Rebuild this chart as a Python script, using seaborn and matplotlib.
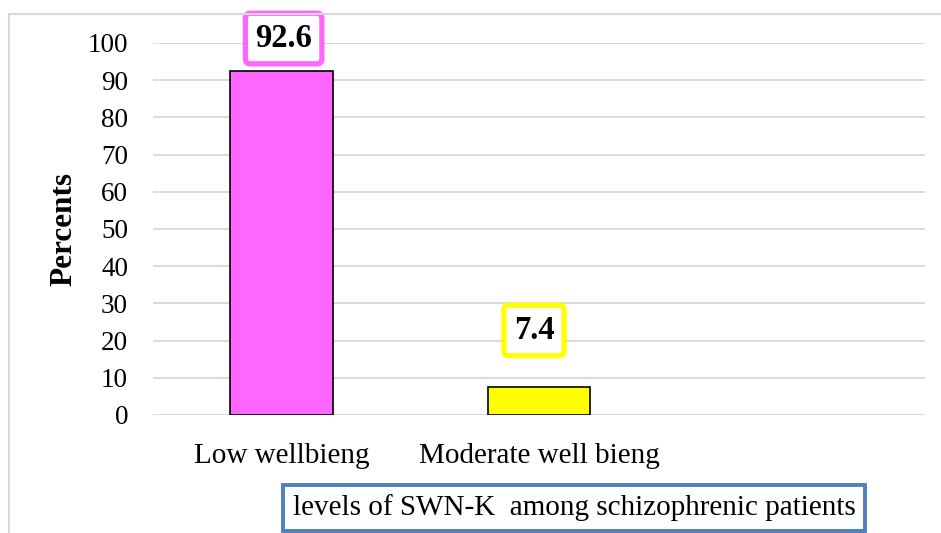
import matplotlib
matplotlib.use("Agg")
import matplotlib.pyplot as plt
import matplotlib.patches as mpatches
import seaborn as sns

# data
categories = ["Low wellbieng", "Moderate well bieng"]
percents = [92.6, 7.4]
bar_colors = ["#FF66FF", "#FFFF00"]
# label offsets from bar top (pixels), Excel labels were placed by hand
label_offsets = [(2, 32), (-5, 57)]

sns.set_theme(style="white")
plt.rcParams["font.family"] = ["Liberation Serif", "DejaVu Serif"]

fig = plt.figure(figsize=(9.41, 5.33), dpi=100)
ax = fig.add_axes([153 / 941, 1 - 415 / 533, 772 / 941, 372 / 533])

sns.barplot(x=categories, y=percents, hue=categories, palette=bar_colors,
            saturation=1, width=0.4, edgecolor="black", linewidth=1.2,
            legend=False, ax=ax)

ax.set_xlim(-0.5, 2.5)
ax.set_ylim(0, 100)
ax.set_yticks(range(0, 101, 10))
ax.grid(axis="y", color="#d9d9d9", linewidth=1.4)
ax.set_axisbelow(True)
for s in ax.spines.values():
    s.set_visible(False)
ax.tick_params(axis="y", length=0, pad=18, labelsize=19.5, labelcolor="black")
ax.tick_params(axis="x", length=0, pad=20, labelsize=21, labelcolor="black")

ax.set_ylabel("Percents", fontsize=22.5, fontweight="bold", color="black")
ax.yaxis.set_label_coords(-0.116, 0.5)
ax.yaxis.label.set_va("center")

ax.set_xlabel("levels of SWN-K  among schizophrenic patients", fontsize=21, color="black",
              bbox=dict(boxstyle="square,pad=0.32", facecolor="white",
                        edgecolor="#4F81BD", linewidth=2.8))
ax.xaxis.set_label_coords((574 - 153) / 772, (415 - 508) / 372)
ax.xaxis.label.set_va("center")

# value labels
for i, (v, c) in enumerate(zip(percents, bar_colors)):
    ax.annotate(f"{v}", xy=(i, v), xytext=label_offsets[i], textcoords="offset pixels",
                ha="center", va="center", fontsize=23.5, fontweight="bold", color="black",
                annotation_clip=False,
                bbox=dict(boxstyle="round,pad=0.3,rounding_size=0.15", facecolor="white",
                          edgecolor=c, linewidth=3.8))

# light outer frame (top and left edges visible)
fig.patches.append(mpatches.Rectangle((9 / 941, -0.2), 1.2, 1.2 - 14 / 533,
                                      transform=fig.transFigure, fill=False,
                                      edgecolor="#d9d9d9", linewidth=1.5, zorder=0))

fig.savefig("out.png", dpi=100)
